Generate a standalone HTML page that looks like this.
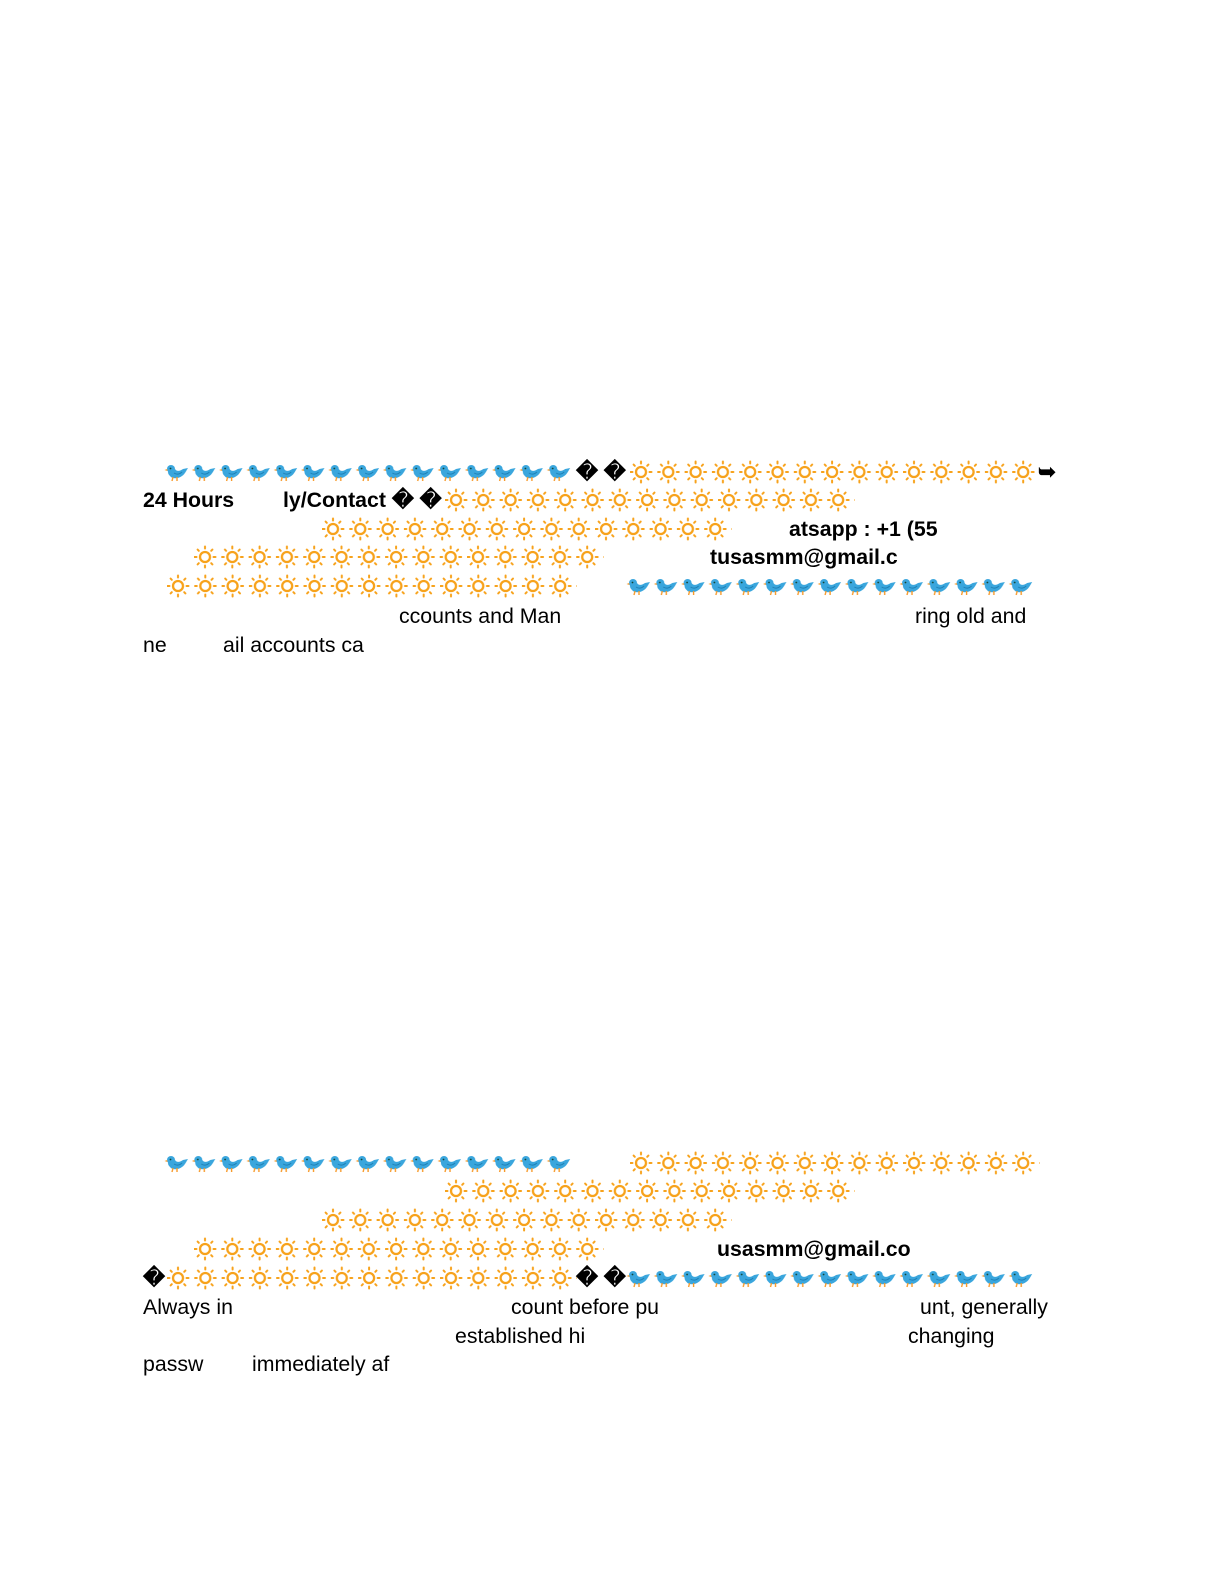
<!DOCTYPE html>
<html><head><meta charset="utf-8">
<style>
body{margin:0;background:#fff;}
#p{position:relative;width:1225px;height:1585px;overflow:hidden;font-family:"Liberation Sans",sans-serif;font-size:21.3px;color:#000;}
.t{position:absolute;line-height:24px;white-space:pre;}
.b{font-weight:bold;}
.r{position:absolute;}
</style></head><body>
<div id="p">
<svg width="0" height="0" style="position:absolute">
<defs>
<g id="sun">
<circle cx="11" cy="12" r="5" fill="none" stroke="#f7a21b" stroke-width="2.3"/>
<g stroke="#f7a21b" stroke-width="2" stroke-linecap="round">
<line x1="11" y1="1.5" x2="11" y2="3.5"/><line x1="11" y1="20.5" x2="11" y2="22.5"/>
<line x1="0.5" y1="12" x2="2.5" y2="12"/><line x1="19.5" y1="12" x2="21.5" y2="12"/>
<line x1="3.6" y1="4.6" x2="4.8" y2="5.8"/><line x1="17.2" y1="18.2" x2="18.4" y2="19.4"/>
<line x1="18.4" y1="4.6" x2="17.2" y2="5.8"/><line x1="4.8" y1="18.2" x2="3.6" y2="19.4"/>
</g></g>
<g id="bird">
<path d="M4,11 C4,7 9,6 11,9 C13,12 16,11 19,9 L24,8 C22,11 21,14 18,16 C14,19 8,19 6,16 C4,14 4,13 4,11Z" fill="#3aa6dd"/>
<circle cx="7" cy="9" r="4" fill="#3aa6dd"/>
<circle cx="6.5" cy="8.5" r="0.9" fill="#143"/>
<path d="M3.2,9 L0.5,10 L3.4,11Z" fill="#f79a2a"/>
<path d="M9,17 L8,21 M13,17 L13,21" stroke="#f79a2a" stroke-width="1.4"/>
<path d="M10,13 C13,15 16,14 18,12" stroke="#1d7fb4" stroke-width="1" fill="none"/>
</g>
<pattern id="ps" patternUnits="userSpaceOnUse" width="27.3" height="24"><use href="#sun"/></pattern>
<pattern id="pb" patternUnits="userSpaceOnUse" width="27.3" height="24"><use href="#bird"/></pattern>
</defs></svg>

<!-- Block 1 -->
<svg class="r" style="left:164px;top:460px" width="410" height="24"><rect width="410" height="24" fill="url(#pb)"/></svg>
<div class="t b" style="left:576px;top:460px">� �</div>
<svg class="r" style="left:630px;top:460px" width="410" height="24"><rect width="410" height="24" fill="url(#ps)"/></svg>
<div class="t b" style="left:1038px;top:460px">➥</div>

<div class="t b" style="left:143px;top:488px">24 Hours</div>
<div class="t b" style="left:283px;top:488px">ly/Contact � �</div>
<svg class="r" style="left:445px;top:488px" width="410" height="24"><rect width="410" height="24" fill="url(#ps)"/></svg>

<svg class="r" style="left:322px;top:517px" width="410" height="24"><rect width="410" height="24" fill="url(#ps)"/></svg>
<div class="t b" style="left:789px;top:517px">atsapp : +1 (55</div>

<svg class="r" style="left:194px;top:545px" width="410" height="24"><rect width="410" height="24" fill="url(#ps)"/></svg>
<div class="t b" style="left:710px;top:545px">tusasmm@gmail.c</div>

<svg class="r" style="left:167px;top:574px" width="410" height="24"><rect width="410" height="24" fill="url(#ps)"/></svg>
<svg class="r" style="left:626px;top:574px" width="410" height="24"><rect width="410" height="24" fill="url(#pb)"/></svg>

<div class="t" style="left:399px;top:604px">ccounts and Man</div>
<div class="t" style="left:915px;top:604px">ring old and</div>
<div class="t" style="left:143px;top:633px">ne</div>
<div class="t" style="left:223px;top:633px">ail accounts ca</div>

<!-- Block 2 -->
<svg class="r" style="left:164px;top:1151px" width="410" height="24"><rect width="410" height="24" fill="url(#pb)"/></svg>
<svg class="r" style="left:630px;top:1151px" width="410" height="24"><rect width="410" height="24" fill="url(#ps)"/></svg>
<svg class="r" style="left:445px;top:1179px" width="410" height="24"><rect width="410" height="24" fill="url(#ps)"/></svg>
<svg class="r" style="left:322px;top:1208px" width="410" height="24"><rect width="410" height="24" fill="url(#ps)"/></svg>
<svg class="r" style="left:194px;top:1237px" width="410" height="24"><rect width="410" height="24" fill="url(#ps)"/></svg>
<div class="t b" style="left:717px;top:1237px">usasmm@gmail.co</div>
<div class="t b" style="left:143px;top:1266px">�</div>
<svg class="r" style="left:167px;top:1266px" width="410" height="24"><rect width="410" height="24" fill="url(#ps)"/></svg>
<div class="t b" style="left:576px;top:1266px">� �</div>
<svg class="r" style="left:626px;top:1266px" width="410" height="24"><rect width="410" height="24" fill="url(#pb)"/></svg>

<div class="t" style="left:143px;top:1295px">Always in</div>
<div class="t" style="left:511px;top:1295px">count before pu</div>
<div class="t" style="left:920px;top:1295px">unt, generally</div>
<div class="t" style="left:455px;top:1324px">established hi</div>
<div class="t" style="left:908px;top:1324px">changing</div>
<div class="t" style="left:143px;top:1352px">passw</div>
<div class="t" style="left:252px;top:1352px">immediately af</div>
</div>
</body></html>
